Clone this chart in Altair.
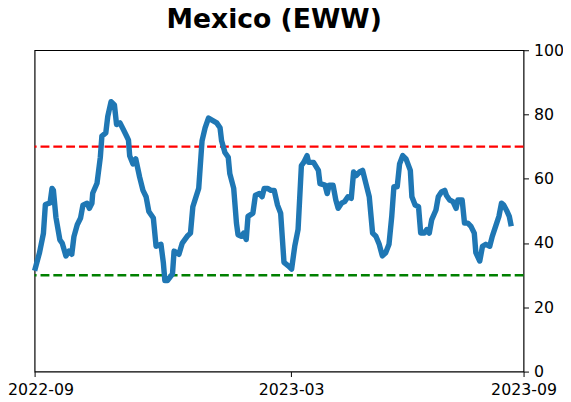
import altair as alt
import pandas as pd

# x position in trading-session index units (0 = start of 2022-09 tick), y = indicator value
xs = [0, 2.5, 4.5, 5.5, 7.9, 8.9, 9.6, 10.9, 12.9, 14.1, 16, 17.6, 19, 20.1, 21.8, 23.5, 24.7,
      26.8, 28, 29.3, 29.7, 31.9, 33.6, 34.4, 36.4, 37.4, 39.1, 40.8, 41.9, 43.6, 45.3, 47, 48,
      48.6, 50.3, 51.7, 53.7, 55.4, 57, 58.4, 60.7, 62.1, 64.6, 65.8, 66.6, 67.9, 70.5, 71.3,
      73.8, 75.5, 78, 79.7, 80.9, 83.9, 85.6, 87.2, 88.9, 93.1, 94.8, 95.6, 97.3, 99, 99.8,
      101.8, 103.2, 104, 105.7, 106.9, 108.2, 109.1, 111.6, 112.9, 114.9, 116.3, 117.4, 119.1,
      120.8, 122.5, 124.2, 125.8, 127.5, 129.7, 131.4, 133, 134.7, 136.4, 137.6, 139.3, 140.1,
      142.6, 145.1, 145.9, 148.5, 149.6, 150.6, 152.6, 154, 155.2, 156.9, 158.5, 160.2, 161.9,
      163.1, 164.4, 166.1, 167.7, 169.4, 171.1, 172.8, 174.5, 176.2, 177.8, 179.5, 181.2,
      182.6, 183.7, 185.4, 186.6, 188.2, 189.9, 192.1, 192.9, 194.6, 196.3, 197.4, 199.2,
      200.5, 201.8, 203, 205.2, 206.4, 208, 209.7, 210.5, 212.2, 213.9, 215.5, 216.4, 218.6,
      219.8, 221.5, 223.1, 224.8, 225.6, 227.6, 229, 230.7, 232.7, 234, 235.7, 237.4, 238.7,
      239.9, 241.6, 242.7, 243.7]
vals = [31.4, 37, 43, 52, 52.5, 57, 56.4, 48, 41, 40, 36, 37.5, 36.5, 42, 45.7, 47.8, 51.8,
        52.4, 50.8, 52.4, 55.5, 58.6, 66.7, 73.3, 74.3, 79.4, 84, 83, 76.9, 77.4, 75.4, 73.3, 72,
        67.2, 64.6, 66.2, 60.5, 56.4, 54.4, 49.8, 47.8, 39, 39.6, 34, 28.3, 28.3, 30.4, 37.5,
        36.5, 40, 42.1, 43.1, 51.3, 57, 71.8, 75.9, 78.9, 77.4, 75.9, 71.8, 68.2, 66.7, 61.6,
        57, 46.2, 42.6, 42.1, 43.1, 41.1, 48.3, 49.3, 54.9, 55.4, 54.4, 57, 57,
        56.4, 56.4, 51.8, 49.3, 34, 32.9, 31.9, 39, 44.2, 64.1, 65.1, 67.2, 65.1,
        65.1, 62.6, 58.5, 58, 55.4, 58, 58, 53.4, 50.8, 52.4, 52.9, 54.4, 53.9,
        62.1, 61, 62.1, 62.6, 58.5, 54.4, 43.1, 42.1, 39.6, 36, 37, 39.6,
        48.3, 57.5, 57.5, 64.6, 67.2, 66.2, 62.6, 54.4, 51.8, 51.3, 43.1, 43.1,
        44.2, 43.1, 47.2, 50.3, 54.4, 55.9, 56.4, 54.9, 53.4, 52.9, 50.8, 53.4, 53.4,
        46.2, 46.2, 45.2, 43.1, 37, 34.4, 39, 39.6, 39, 42.1, 45.2, 48.3, 52.4,
        51.8, 49.8, 48.3, 45.2]

tick_vals = [0, 131.2, 250]
tick_labels = ["2022-09", "2023-03", "2023-09"]
upper_level = 70
lower_level = 30

df = pd.DataFrame({"x": xs, "v": vals})
label_expr = " : ".join(
    [f"datum.value == {v} ? '{l}'" for v, l in zip(tick_vals, tick_labels)]
) + " : ''"

FONT = "DejaVu Sans"

xscale = alt.Scale(domain=[0, 250], nice=False, zero=False)
yscale = alt.Scale(domain=[0, 100], nice=False)

line = alt.Chart(df).mark_line(color="#1f77b4", strokeWidth=5.5, strokeJoin="round").encode(
    x=alt.X("x:Q", scale=xscale,
            axis=alt.Axis(values=tick_vals, labelExpr=label_expr, title=None, grid=False,
                          tickSize=5, tickColor="black", domain=False, labelFont=FONT,
                          labelFontSize=16, labelColor="black", labelPadding=5,
                          labelFlush=False, labelOverlap=False,
                          labelOffset={"condition": {"test": "datum.value == 0", "value": 6},
                                       "value": 0})),
    y=alt.Y("v:Q", scale=yscale,
            axis=alt.Axis(orient="right", values=[0, 20, 40, 60, 80, 100], title=None,
                          grid=False, tickSize=5, tickColor="black", domain=False,
                          labelFont=FONT, labelFontSize=16, labelColor="black",
                          labelPadding=5, labelFlush=False)),
)

ref = pd.DataFrame({"y": [upper_level, lower_level], "c": ["#ff0000", "#008000"]})
rules = alt.Chart(ref).mark_rule(strokeWidth=2.5, strokeDash=[9, 4]).encode(
    y=alt.Y("y:Q", scale=yscale),
    color=alt.Color("c:N", scale=None),
)

chart = alt.layer(rules, line).properties(
    width=496, height=326,
    title=alt.TitleParams("Mexico (EWW)", font=FONT, fontSize=27, fontWeight="bold",
                          color="black", anchor="middle", offset=9, dx=-5),
    autosize=alt.AutoSizeParams(type="none"),
    padding={"left": 27, "top": 40, "right": 40, "bottom": 28},
    background="white",
).configure_view(stroke="black", strokeWidth=1.2)

chart.save("out.html", embed_options={"renderer": "svg", "actions": False})
